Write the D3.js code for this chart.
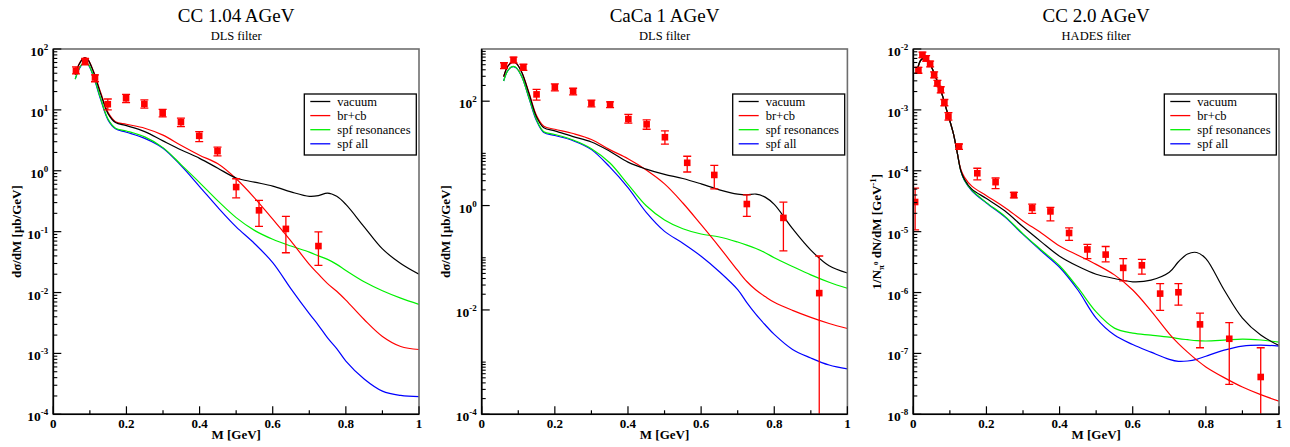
<!DOCTYPE html>
<html>
<head>
<meta charset="utf-8">
<script src="https://cdn.jsdelivr.net/npm/d3@7"></script>
<style>
    body { margin: 0; background: #fff; }
    svg text { font-family: "Liberation Serif", "Times New Roman", serif; fill: #000; }
</style>
</head>
<body>
<div id="chart"></div>
<script>
// ---------- data ----------

const seriesNames = ["vacuum", "br+cb", "spf resonances", "spf all"];
const seriesColors = ["#000000", "#ff0000", "#00f000", "#0000ff"];

// mass grid for the DLS panels (GeV)
const massDls = [0.06, 0.07, 0.08, 0.087, 0.095, 0.11, 0.13, 0.15, 0.17, 0.2, 0.25, 0.3, 0.35, 0.4, 0.45,
    0.5, 0.55, 0.6, 0.65, 0.7, 0.725, 0.75, 0.775, 0.8, 0.85, 0.9, 0.95, 1.0];

// CC 1.04 AGeV, DLS filter
const cc104Vacuum = [38, 55, 68, 71, 66, 42, 18, 8.6, 6.2, 5.5, 4.4, 3.1, 2.2, 1.6, 1.1,
    0.76, 0.65, 0.56, 0.45, 0.38, 0.39, 0.43, 0.38, 0.28, 0.12, 0.052, 0.03, 0.02];
const cc104BrCb = [38, 56, 69, 72, 67, 43, 19, 9, 6.4, 5.8, 5.0, 3.85, 2.6, 1.8, 1.3,
    0.74, 0.36, 0.16, 0.07, 0.029, 0.02, 0.014, 0.0105, 0.0075, 0.0036, 0.0019, 0.0013, 0.00116];
const cc104SpfRes = [32, 47, 58, 61, 57, 36, 15, 7, 5, 4.5, 3.6, 2.4, 1.25, 0.64, 0.32,
    0.17, 0.105, 0.075, 0.058, 0.046, 0.04, 0.035, 0.029, 0.023, 0.015, 0.0107, 0.0081, 0.0064];
const cc104SpfAll = [32, 46, 57, 60, 56, 35, 14.5, 6.8, 4.9, 4.3, 3.4, 2.35, 1.2, 0.55, 0.25,
    0.12, 0.064, 0.031, 0.0115, 0.0045, 0.0029, 0.0018, 0.0012, 0.00075, 0.00038, 0.00024, 0.000204, 0.000195];

const cc104DataM = [0.062, 0.087, 0.114, 0.149, 0.199, 0.249, 0.299, 0.349, 0.399, 0.449, 0.5, 0.5625, 0.636, 0.725];
const cc104DataY = [44, 62, 34, 12.4, 15.5, 12.5, 8.8, 6.3, 3.75, 2.1, 0.54, 0.224, 0.111, 0.058];
const cc104DataLo = [39, 55, 29, 10, 13.2, 10.7, 7.7, 5.3, 3.0, 1.75, 0.36, 0.122, 0.045, 0.028];
const cc104DataHi = [51, 70, 37.5, 15.1, 18, 14.6, 10.2, 7.3, 4.4, 2.45, 0.74, 0.326, 0.178, 0.099];

// CaCa 1 AGeV, DLS filter
const caVacuum = [295, 450, 540, 560, 525, 350, 135, 50, 31, 27, 21, 16.5, 11, 6.8, 5.0,
    3.95, 3.3, 2.6, 2.0, 1.65, 1.6, 1.66, 1.45, 1.05, 0.36, 0.14, 0.07, 0.051];
const caBrCb = [295, 455, 545, 565, 530, 355, 140, 53, 33, 29, 24, 18.5, 11.8, 7.9, 4.8,
    2.6, 1.12, 0.43, 0.16, 0.057, 0.035, 0.024, 0.018, 0.014, 0.0098, 0.0072, 0.0055, 0.0044];
const caSpfRes = [244, 372, 448, 465, 435, 292, 112, 44, 26, 23, 18, 12.3, 6.6, 2.55, 0.99,
    0.53, 0.36, 0.285, 0.25, 0.2, 0.175, 0.15, 0.125, 0.1, 0.068, 0.047, 0.034, 0.026];
const caSpfAll = [244, 370, 445, 460, 430, 290, 110, 42, 25, 22, 17.5, 11.8, 5.5, 2.2, 0.74,
    0.32, 0.19, 0.107, 0.054, 0.0245, 0.0138, 0.0082, 0.0052, 0.0034, 0.00175, 0.0012, 0.00088, 0.00074];

const caDataM = [0.061, 0.087, 0.114, 0.15, 0.2, 0.25, 0.3, 0.351, 0.401, 0.451, 0.501, 0.562, 0.636, 0.725, 0.825, 0.923];
const caDataY = [479, 617, 447, 135, 185, 155, 91, 87, 45.5, 36, 20.4, 6.6, 3.86, 1.07, 0.58, 0.021];
const caDataLo = [420, 540, 390, 105, 158, 132, 78, 75, 38, 29, 15, 4.4, 2.08, 0.62, 0.135, 0.00001];
const caDataHi = [545, 700, 510, 169, 214, 177, 105, 97, 56, 44, 27, 8.8, 5.9, 1.6, 1.16, 0.108];

// CC 2.0 AGeV, HADES filter
const massHades = [0.01, 0.02, 0.028, 0.04, 0.05, 0.06, 0.07, 0.08, 0.09, 0.1, 0.11, 0.12, 0.13, 0.14,
    0.16, 0.2, 0.25, 0.3, 0.35, 0.4, 0.45, 0.5, 0.55, 0.6, 0.65, 0.7, 0.725, 0.75, 0.775, 0.8, 0.85, 0.9, 0.95, 1.0];

const hadesVacuum = [4.3e-3, 6.5e-3, 7.0e-3, 6.3e-3, 5.0e-3, 3.6e-3, 2.5e-3, 1.7e-3, 1.05e-3, 6.6e-4, 4.0e-4, 2.0e-4, 1.0e-4, 7.2e-5,
    5.0e-5, 3.5e-5, 2.2e-5, 1.2e-5, 6.8e-6, 3.95e-6, 2.7e-6, 2.0e-6, 1.7e-6, 1.5e-6, 1.6e-6, 2.15e-6, 3.2e-6, 4.3e-6, 4.55e-6, 3.6e-6, 1.1e-6, 3.8e-7, 2.0e-7, 1.35e-7];
const hadesBrCb = [4.3e-3, 6.5e-3, 7.0e-3, 6.3e-3, 5.0e-3, 3.6e-3, 2.5e-3, 1.7e-3, 1.05e-3, 6.6e-4, 4.0e-4, 2.0e-4, 1.05e-4, 7.8e-5,
    5.6e-5, 3.9e-5, 2.5e-5, 1.5e-5, 9.5e-6, 5.8e-6, 4.1e-6, 2.9e-6, 1.95e-6, 1.1e-6, 5.0e-7, 2.1e-7, 1.45e-7, 1.05e-7, 7.8e-8, 6.0e-8, 4.0e-8, 2.8e-8, 2.1e-8, 1.65e-8];
const hadesSpfRes = [4.3e-3, 6.5e-3, 7.0e-3, 6.3e-3, 5.0e-3, 3.6e-3, 2.5e-3, 1.7e-3, 1.05e-3, 6.6e-4, 4.0e-4, 2.0e-4, 1.0e-4, 7.0e-5,
    4.8e-5, 3.0e-5, 1.8e-5, 9.2e-6, 5.0e-6, 2.75e-6, 1.2e-6, 4.8e-7, 2.6e-7, 2.15e-7, 2.0e-7, 1.85e-7, 1.75e-7, 1.68e-7, 1.62e-7, 1.6e-7, 1.65e-7, 1.72e-7, 1.66e-7, 1.53e-7];
const hadesSpfAll = [4.3e-3, 6.5e-3, 7.0e-3, 6.3e-3, 5.0e-3, 3.6e-3, 2.5e-3, 1.7e-3, 1.05e-3, 6.6e-4, 4.0e-4, 2.0e-4, 1.0e-4, 6.9e-5,
    4.7e-5, 2.95e-5, 1.75e-5, 9.0e-6, 4.8e-6, 2.6e-6, 1.1e-6, 3.8e-7, 2.0e-7, 1.4e-7, 1.05e-7, 8.0e-8, 7.4e-8, 7.5e-8, 8.0e-8, 9.0e-8, 1.13e-7, 1.32e-7, 1.37e-7, 1.32e-7];

const hadesDataM = [0.005, 0.014, 0.025, 0.035, 0.046, 0.057, 0.066, 0.075, 0.085, 0.096, 0.125, 0.175, 0.225,
    0.275, 0.325, 0.375, 0.426, 0.476, 0.526, 0.574, 0.625, 0.675, 0.725, 0.784, 0.864, 0.95];
const hadesDataY = [3.07e-5, 4.5e-3, 8.0e-3, 7.0e-3, 5.7e-3, 3.75e-3, 2.74e-3, 2.13e-3, 1.32e-3, 7.8e-4, 2.5e-4, 9.1e-5, 6.5e-5,
    4.0e-5, 2.45e-5, 2.15e-5, 9.5e-6, 5.1e-6, 4.2e-6, 2.54e-6, 2.8e-6, 9.6e-7, 1.01e-6, 3.0e-7, 1.74e-7, 4.1e-8];
const hadesDataLo = [1.07e-5, 4.0e-3, 7.2e-3, 6.3e-3, 5.1e-3, 3.35e-3, 2.45e-3, 1.9e-3, 1.17e-3, 6.8e-4, 2.25e-4, 7.1e-5, 5.1e-5,
    3.6e-5, 2.0e-5, 1.5e-5, 7.2e-6, 3.6e-6, 3.2e-6, 1.55e-6, 2.0e-6, 5.1e-7, 6.2e-7, 1.24e-7, 3.1e-8, 1e-9];
const hadesDataHi = [5.2e-5, 5.0e-3, 8.9e-3, 7.8e-3, 6.3e-3, 4.2e-3, 3.05e-3, 2.4e-3, 1.48e-3, 9.0e-4, 2.75e-4, 1.1e-4, 7.6e-5,
    4.4e-5, 2.84e-5, 2.5e-5, 1.15e-5, 6.2e-6, 5.7e-6, 3.6e-6, 3.5e-6, 1.4e-6, 1.4e-6, 4.6e-7, 3.2e-7, 1.24e-7];

const xTicks = [0, 0.2, 0.4, 0.6, 0.8, 1];

// ---------- panel class ----------

class SpectrumPanel {
    constructor(svg, cfg) {
        this.cfg = cfg;
        this.left = cfg.left;
        this.top = 49;
        this.width = 365.7;
        this.height = 365.3;

        this.x = d3.scaleLinear().domain([0, 1]).range([this.left, this.left + this.width]);
        this.y = d3.scaleLog().domain(cfg.yDomain).range([this.top + this.height, this.top]);

        this.g = svg.append("g").attr("class", "panel");
        this.clipId = "clip-" + cfg.id;
        svg.append("clipPath").attr("id", this.clipId)
            .append("rect")
            .attr("x", this.left).attr("y", this.top)
            .attr("width", this.width).attr("height", this.height);

        this.drawTitles();
        this.drawCurves();
        this.drawData();
        this.drawFrame();
        this.drawAxes();
        this.drawLegend();
    }

    drawTitles() {
        const cx = this.left + this.width / 2;
        this.g.append("text")
            .attr("x", cx).attr("y", 22)
            .attr("text-anchor", "middle")
            .style("font-size", "19px")
            .text(this.cfg.title);
        this.g.append("text")
            .attr("x", cx).attr("y", 40)
            .attr("text-anchor", "middle")
            .style("font-size", "12.5px")
            .text(this.cfg.subtitle);
    }

    drawCurves() {
        const line = d3.line()
            .x(d => this.x(d[0]))
            .y(d => this.y(d[1]))
            .curve(d3.curveCatmullRom.alpha(0.5));

        const layer = this.g.append("g").attr("clip-path", `url(#${this.clipId})`);
        // blue first, black last (on top)
        [3, 2, 1, 0].forEach(i => {
            const pts = this.cfg.mass.map((m, k) => [m, this.cfg.curves[i][k]]);
            layer.append("path")
                .datum(pts)
                .attr("d", line)
                .attr("fill", "none")
                .attr("stroke", seriesColors[i])
                .attr("stroke-width", 1.2);
        });
    }

    drawData() {
        const d = this.cfg.data;
        const pts = d.m.map((m, i) => ({ m: m, v: d.y[i], lo: d.lo[i], hi: d.hi[i] }));
        const layer = this.g.append("g").attr("clip-path", `url(#${this.clipId})`);
        const cap = 4;

        const bars = layer.selectAll("g.err").data(pts).join("g").attr("class", "err")
            .attr("stroke", "#ff0000").attr("stroke-width", 1.3);
        bars.append("line")
            .attr("x1", p => this.x(p.m)).attr("x2", p => this.x(p.m))
            .attr("y1", p => this.y(p.lo)).attr("y2", p => this.y(p.hi));
        bars.append("line")
            .attr("x1", p => this.x(p.m) - cap).attr("x2", p => this.x(p.m) + cap)
            .attr("y1", p => this.y(p.hi)).attr("y2", p => this.y(p.hi));
        bars.append("line")
            .attr("x1", p => this.x(p.m) - cap).attr("x2", p => this.x(p.m) + cap)
            .attr("y1", p => this.y(p.lo)).attr("y2", p => this.y(p.lo));

        layer.selectAll("rect.pt").data(pts).join("rect").attr("class", "pt")
            .attr("x", p => this.x(p.m) - 3.3).attr("y", p => this.y(p.v) - 3.3)
            .attr("width", 6.6).attr("height", 6.6)
            .attr("fill", "#ff0000");
    }

    drawFrame() {
        this.g.append("rect")
            .attr("x", this.left).attr("y", this.top)
            .attr("width", this.width).attr("height", this.height)
            .attr("fill", "none")
            .attr("stroke", "#6e6e6e")
            .attr("stroke-width", 1.6);
    }

    drawAxes() {
        const bottom = this.top + this.height;
        const ax = this.g.append("g").attr("stroke", "#000");

        // x axis
        ax.append("line").attr("x1", this.left).attr("x2", this.left + this.width)
            .attr("y1", bottom).attr("y2", bottom).attr("stroke-width", 1.6);
        const xMinor = d3.range(0.1, 1, 0.2);
        ax.selectAll("line.xmaj").data(xTicks).join("line").attr("class", "xmaj")
            .attr("x1", d => this.x(d)).attr("x2", d => this.x(d))
            .attr("y1", bottom).attr("y2", bottom - 8).attr("stroke-width", 1.2);
        ax.selectAll("line.xmin").data(xMinor).join("line").attr("class", "xmin")
            .attr("x1", d => this.x(d)).attr("x2", d => this.x(d))
            .attr("y1", bottom).attr("y2", bottom - 4).attr("stroke-width", 1.2);

        this.g.selectAll("text.xlab").data(xTicks).join("text").attr("class", "xlab")
            .attr("x", d => this.x(d)).attr("y", bottom + 14)
            .attr("text-anchor", "middle")
            .style("font-size", "13px").style("font-weight", "bold")
            .text(d3.format("~g"));

        this.g.append("text")
            .attr("x", this.left + this.width / 2).attr("y", bottom + 25)
            .attr("text-anchor", "middle")
            .style("font-size", "13px").style("font-weight", "bold")
            .text("M [GeV]");

        // y axis
        ax.append("line").attr("x1", this.left).attr("x2", this.left)
            .attr("y1", this.top).attr("y2", bottom).attr("stroke-width", 1.6);

        const [lo, hi] = this.cfg.yDomain.map(v => Math.round(Math.log10(v)));
        const majors = d3.range(lo, hi + 1).filter(e => (e - lo) % this.cfg.labelStep === 0);
        const minors = [];
        majors.forEach(e => {
            // the CaCa panel puts minor ticks 2..10 only above each labelled decade
            const last = this.cfg.labelStep === 1 ? 9 : 10;
            for (let m = 2; m <= last; m++) {
                const v = m * Math.pow(10, e);
                if (v < Math.pow(10, hi)) minors.push(v);
            }
        });

        ax.selectAll("line.ymaj").data(majors).join("line").attr("class", "ymaj")
            .attr("x1", this.left).attr("x2", this.left + 8)
            .attr("y1", e => this.y(Math.pow(10, e))).attr("y2", e => this.y(Math.pow(10, e)))
            .attr("stroke-width", 1.2);
        ax.selectAll("line.ymin").data(minors).join("line").attr("class", "ymin")
            .attr("x1", this.left).attr("x2", this.left + 4)
            .attr("y1", v => this.y(v)).attr("y2", v => this.y(v))
            .attr("stroke-width", 1.1);

        const labels = this.g.selectAll("text.ylab").data(majors).join("text").attr("class", "ylab")
            .attr("x", this.left - 5)
            .attr("y", e => this.y(Math.pow(10, e)) + 7)
            .attr("text-anchor", "end")
            .style("font-size", "13.5px").style("font-weight", "bold");
        labels.append("tspan").text("10");
        labels.append("tspan").attr("dy", -6).style("font-size", "9px").text(e => e < 0 ? "-" + (-e) : e);

        // axis title
        const t = this.g.append("text")
            .attr("transform", `translate(${this.left - 32},${this.top + this.height / 2}) rotate(-90)`)
            .attr("text-anchor", "middle")
            .style("font-size", "13px").style("font-weight", "bold");
        if (this.cfg.yKind === "sigma") {
            t.text("dσ/dM [μb/GeV]");
        } else {
            t.append("tspan").text("1/N");
            t.append("tspan").attr("dy", 3).style("font-size", "9px").text("π");
            t.append("tspan").attr("dy", -6).style("font-size", "7px").text("0");
            t.append("tspan").attr("dy", 3).text(" dN/dM [GeV");
            t.append("tspan").attr("dy", -5).style("font-size", "9px").text("-1");
            t.append("tspan").attr("dy", 5).text("]");
        }
    }

    drawLegend() {
        const lx = this.left + 251, ly = 94;
        const box = this.g.append("g");
        box.append("rect")
            .attr("x", lx).attr("y", ly).attr("width", 112).attr("height", 61)
            .attr("fill", "#fff").attr("stroke", "#000").attr("stroke-width", 1.3);
        const rows = box.selectAll("g.row").data(seriesNames).join("g").attr("class", "row")
            .attr("transform", (d, i) => `translate(${lx}, ${ly + 7.5 + i * 14.1})`);
        rows.append("line")
            .attr("x1", 6).attr("x2", 26).attr("y1", 0).attr("y2", 0)
            .attr("stroke", (d, i) => seriesColors[i]).attr("stroke-width", 1.3);
        rows.append("text")
            .attr("x", 33).attr("y", 4)
            .style("font-size", "12.5px")
            .text(d => d);
    }
}

// ---------- build ----------

const svg = d3.select("#chart").append("svg")
    .attr("width", 1290).attr("height", 447);

const panelConfigs = [
    {
        id: "cc104", title: "CC 1.04 AGeV", subtitle: "DLS filter", left: 53.3,
        yDomain: [1e-4, 1e2], labelStep: 1, yKind: "sigma", mass: massDls,
        curves: [cc104Vacuum, cc104BrCb, cc104SpfRes, cc104SpfAll],
        data: { m: cc104DataM, y: cc104DataY, lo: cc104DataLo, hi: cc104DataHi }
    },
    {
        id: "caca", title: "CaCa 1 AGeV", subtitle: "DLS filter", left: 481.7,
        yDomain: [1e-4, 1e3], labelStep: 2, yKind: "sigma", mass: massDls,
        curves: [caVacuum, caBrCb, caSpfRes, caSpfAll],
        data: { m: caDataM, y: caDataY, lo: caDataLo, hi: caDataHi }
    },
    {
        id: "cc20", title: "CC 2.0 AGeV", subtitle: "HADES filter", left: 913.3,
        yDomain: [1e-8, 1e-2], labelStep: 1, yKind: "pion", mass: massHades,
        curves: [hadesVacuum, hadesBrCb, hadesSpfRes, hadesSpfAll],
        data: { m: hadesDataM, y: hadesDataY, lo: hadesDataLo, hi: hadesDataHi }
    }
];

panelConfigs.forEach(cfg => new SpectrumPanel(svg, cfg));
</script>
</body>
</html>
